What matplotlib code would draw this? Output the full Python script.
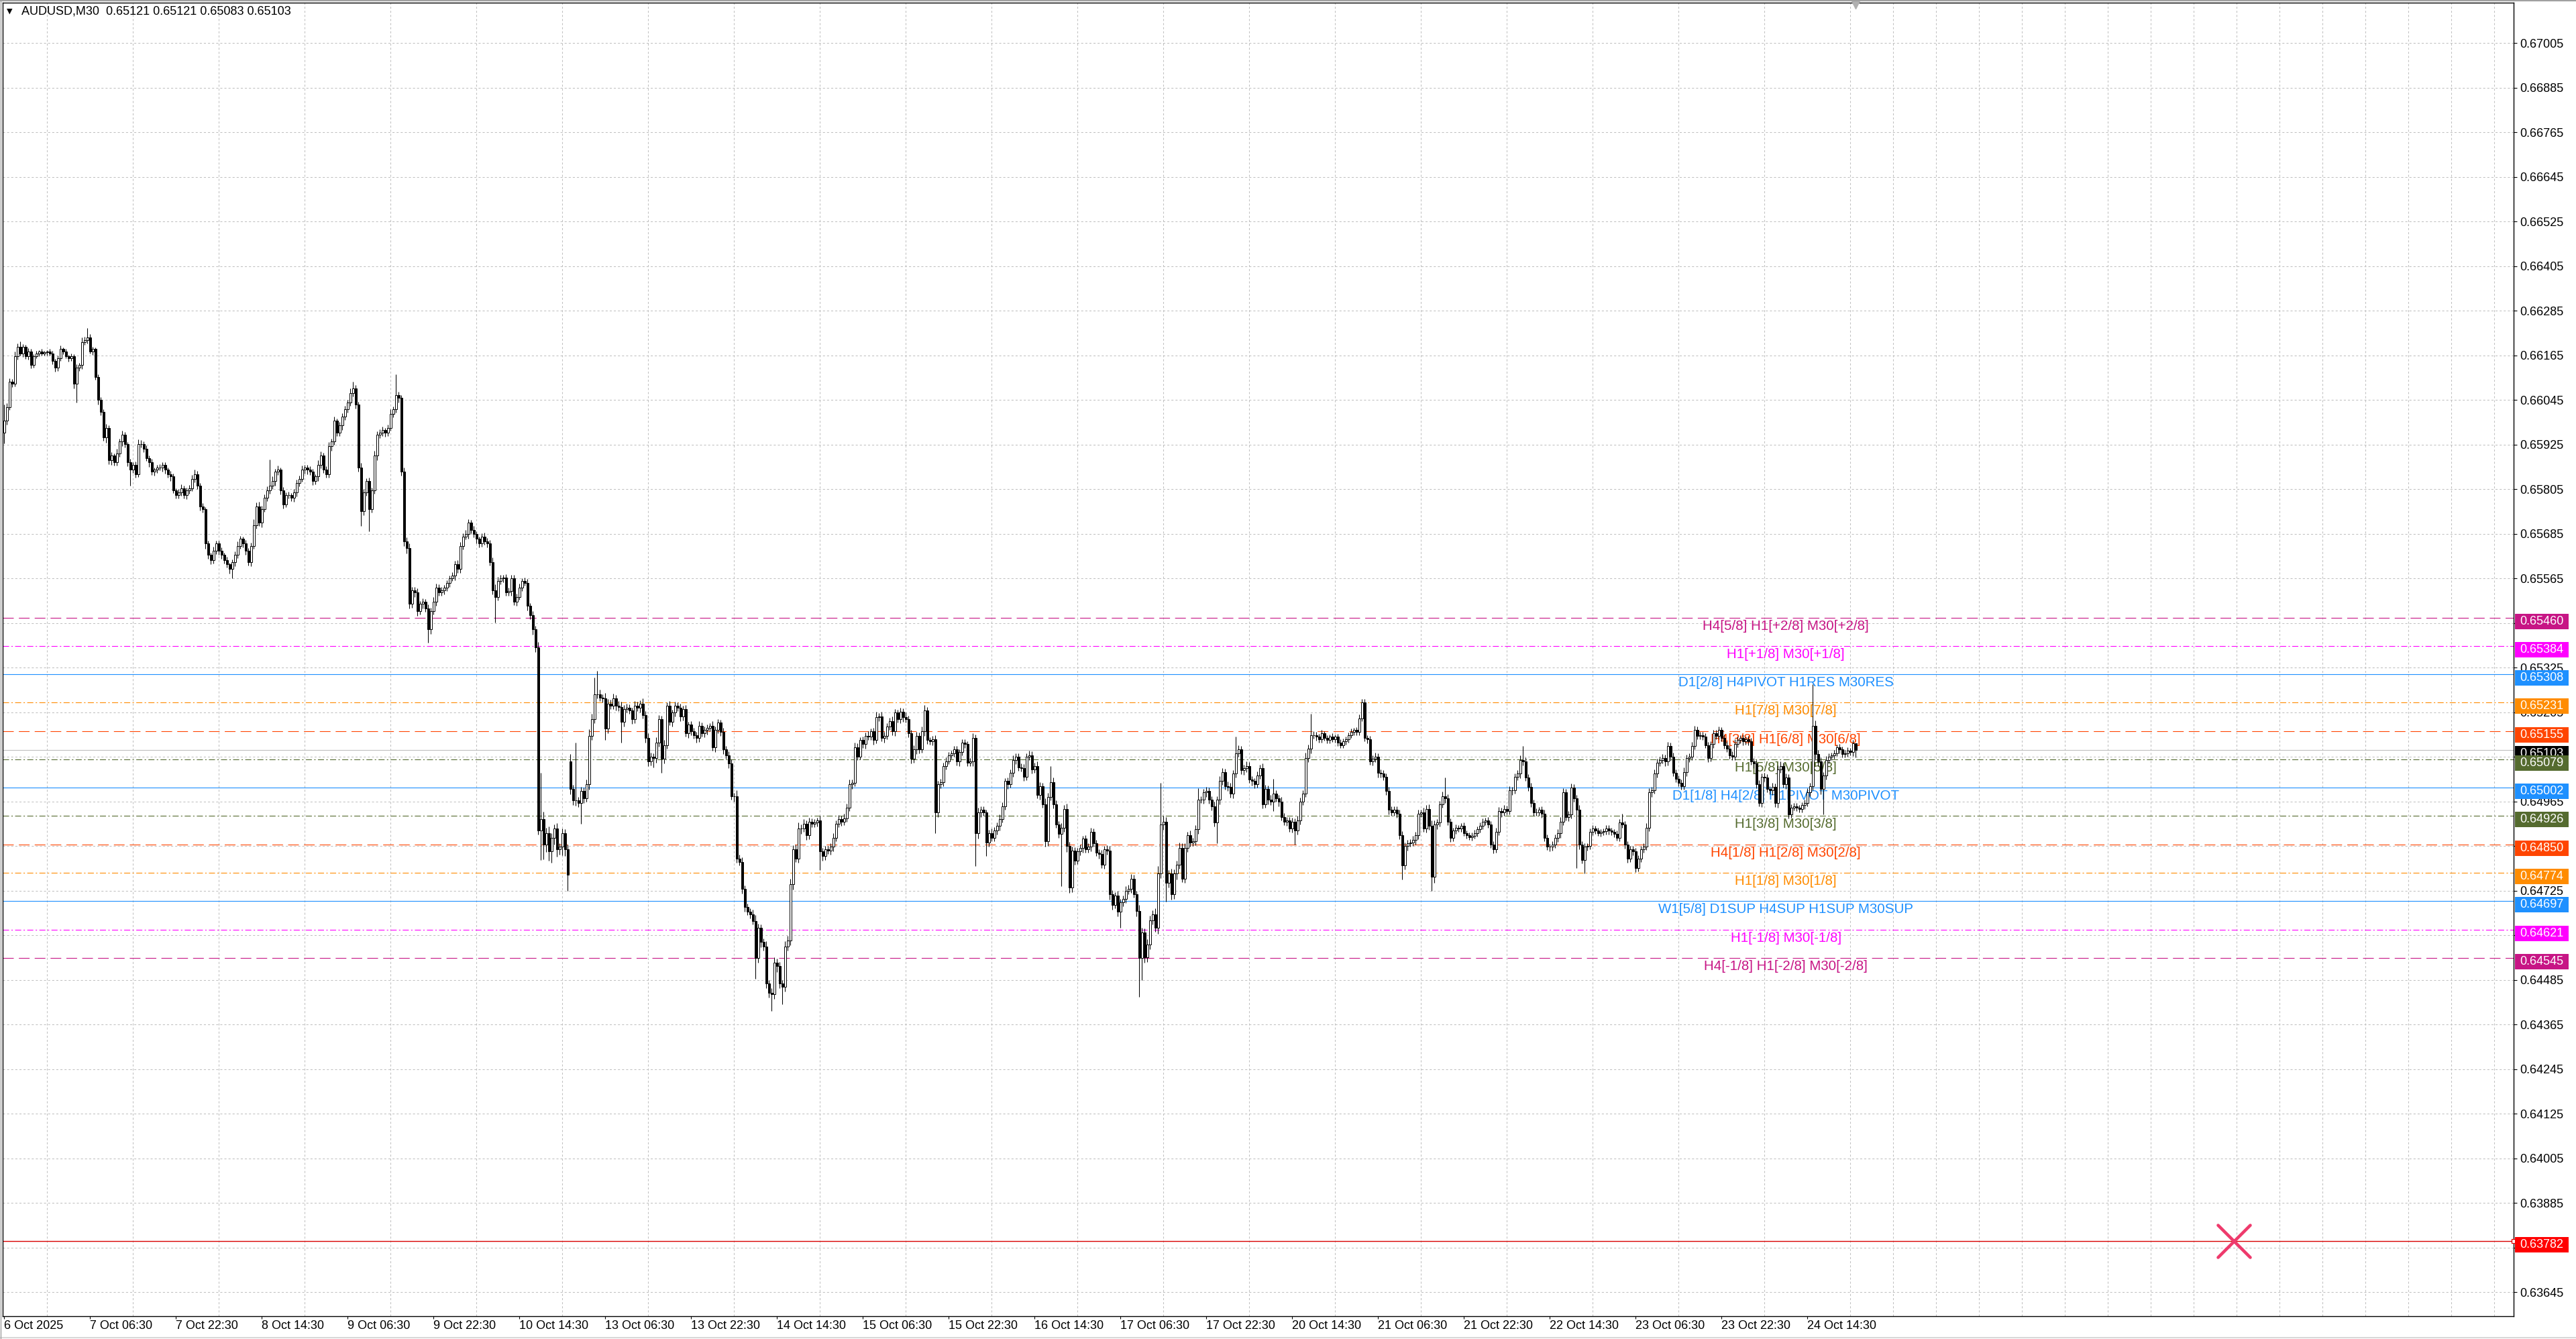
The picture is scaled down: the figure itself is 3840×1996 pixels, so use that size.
import matplotlib

matplotlib.use("Agg")

import matplotlib.pyplot as plt
import matplotlib.transforms as mtransforms
from matplotlib.lines import Line2D
from matplotlib.markers import MarkerStyle
from matplotlib.patches import Rectangle
from matplotlib.ticker import MultipleLocator
import numpy as np

plt.rcParams["font.family"] = ["Liberation Sans", "DejaVu Sans"]
plt.rcParams["lines.scale_dashes"] = False

W, H, DPI = 3840, 1996, 100

# ---- data -------------------------------------------------------------
SYMBOL = "AUDUSD,M30"
LAST_OHLC = ["0.65121", "0.65121", "0.65083", "0.65103"]

# M30 closes in points (1e-5)
CLOSE_PTS = [
    65989, 66026, 66095, 66089, 66163, 66188, 66170, 66188, 66163, 66176,
    66139, 66163, 66170, 66176, 66170, 66173, 66176, 66170, 66151, 66132,
    66157, 66182, 66176, 66163, 66157, 66163, 66089, 66132, 66139, 66201,
    66207, 66213, 66176, 66182, 66107, 66045, 66014, 65945, 65970, 65883,
    65896, 65877, 65902, 65933, 65952, 65927, 65877, 65858, 65871, 65846,
    65927, 65927, 65914, 65889, 65877, 65852, 65858, 65864, 65864, 65871,
    65858, 65846, 65840, 65802, 65790, 65796, 65808, 65790, 65802, 65808,
    65833, 65846, 65815, 65759, 65752, 65659, 65628, 65615, 65640, 65659,
    65640, 65628, 65615, 65603, 65590, 65609, 65628, 65653, 65672, 65659,
    65640, 65609, 65653, 65709, 65759, 65715, 65752, 65783, 65802, 65815,
    65827, 65852, 65858, 65802, 65765, 65790, 65790, 65783, 65796, 65821,
    65833, 65858, 65864, 65858, 65852, 65827, 65840, 65871, 65896, 65858,
    65846, 65921, 65933, 65989, 65958, 65977, 66001, 66020, 66039, 66064,
    66076, 66033, 65864, 65746, 65796, 65827, 65752, 65802, 65896, 65952,
    65958, 65964, 65958, 65970, 66008, 66020, 66058, 66051, 65852, 65665,
    65647, 65497, 65534, 65528, 65478, 65497, 65503, 65485, 65428, 65478,
    65503, 65541, 65528, 65534, 65541, 65553, 65566, 65572, 65603, 65590,
    65653, 65678, 65684, 65715, 65696, 65684, 65672, 65659, 65678, 65665,
    65659, 65609, 65534, 65516, 65559, 65566, 65568, 65528, 65531, 65566,
    65503, 65516, 65541, 65559, 65553, 65491, 65466, 65428, 65379, 64887,
    64918, 64849, 64880, 64831, 64868, 64893, 64837, 64843, 64880, 64837,
    64768, 64999, 64968, 64968, 64961, 64993, 64974, 65011, 65142, 65186,
    65254, 65254, 65244, 65242, 65161, 65229, 65223, 65242, 65223, 65219,
    65179, 65214, 65217, 65210, 65186, 65223, 65217, 65229, 65198, 65136,
    65073, 65086, 65082, 65123, 65186, 65080, 65117, 65223, 65179, 65204,
    65223, 65217, 65194, 65214, 65148, 65173, 65154, 65144, 65136, 65169,
    65148, 65157, 65164, 65169, 65111, 65157, 65177, 65152, 65105, 65090,
    65067, 64980, 64980, 64812, 64803, 64731, 64681, 64669, 64662, 64644,
    64544, 64625, 64588, 64575, 64475, 64451, 64447, 64532, 64522, 64475,
    64467, 64575, 64591, 64743, 64837, 64812, 64893, 64893, 64905, 64874,
    64911, 64905, 64908, 64915, 64831, 64818, 64837, 64833, 64843, 64868,
    64905, 64918, 64911, 64920, 64949, 65011, 65015, 65111, 65086, 65130,
    65120, 65142, 65140, 65154, 65130, 65192, 65194, 65136, 65142, 65167,
    65182, 65154, 65204, 65186, 65207, 65192, 65186, 65148, 65080, 65105,
    65142, 65105, 65154, 65210, 65130, 65127, 65132, 64936, 65011, 65017,
    65061, 65073, 65090, 65095, 65105, 65073, 65098, 65123, 65120, 65070,
    65073, 65136, 64880, 64936, 64943, 64936, 64855, 64880, 64868, 64887,
    64899, 64918, 64953, 65020, 65011, 65042, 65077, 65086, 65057, 65055,
    65032, 65086, 65090, 65052, 65061, 64982, 65007, 64958, 64858, 64978,
    65017, 64958, 64903, 64878, 64895, 64945, 64845, 64733, 64833, 64806,
    64831, 64840, 64865, 64837, 64843, 64883, 64853, 64828, 64824, 64796,
    64837, 64833, 64716, 64687, 64712, 64669, 64694, 64704, 64725, 64731,
    64758, 64716, 64671, 64544, 64613, 64546, 64581, 64646, 64662, 64625,
    64771, 64903, 64911, 64746, 64771, 64716, 64771, 64796, 64840, 64758,
    64840, 64874, 64855, 64858, 64890, 64970, 64970, 64990, 64993, 64970,
    64953, 64908, 64970, 65020, 65045, 65007, 65005, 64986, 65040, 65095,
    65105, 65049, 65055, 65061, 65024, 65020, 65011, 65036, 65055, 64958,
    64999, 64970, 64965, 64986, 64974, 64965, 64924, 64911, 64915, 64893,
    64911, 64887, 64915, 64965, 64986, 65082, 65107, 65144, 65144, 65139,
    65132, 65148, 65136, 65130, 65139, 65132, 65139, 65123, 65117, 65127,
    65132, 65144, 65152, 65157, 65152, 65189, 65232, 65136, 65132, 65073,
    65080, 65086, 65042, 65040, 65032, 64993, 64943, 64936, 64943, 64933,
    64874, 64793, 64845, 64853, 64855, 64862, 64874, 64933, 64936, 64893,
    64945, 64899, 64762, 64903, 64908, 64958, 64980, 64974, 64911, 64868,
    64887, 64895, 64893, 64899, 64880, 64874, 64870, 64873, 64880, 64890,
    64899, 64911, 64915, 64903, 64849, 64837, 64883, 64940, 64936, 64945,
    64940, 64995, 64995, 65032, 65040, 65077, 65073, 65030, 65005, 64961,
    64936, 64936, 64943, 64933, 64868, 64843, 64843, 64849, 64868, 64880,
    64911, 64990, 64924, 64930, 65002, 64974, 64943, 64849, 64808, 64843,
    64845, 64883, 64893, 64887, 64880, 64883, 64885, 64893, 64887, 64883,
    64878, 64868, 64908, 64903, 64849, 64812, 64837, 64831, 64787, 64812,
    64837, 64843, 64895, 64990, 64995, 65040, 65070, 65077, 65082, 65073,
    65115, 65086, 65042, 65027, 65015, 65007, 65045, 65082, 65086, 65115,
    65157, 65142, 65144, 65139, 65117, 65082, 65120, 65148, 65142, 65157,
    65136, 65117, 65107, 65090, 65086, 65120, 65130, 65136, 65127, 65132,
    65127, 65073, 65067, 65011, 64961, 65032, 65030, 64999, 64995, 65005,
    64961, 65052, 65061, 65011, 65030, 64930, 64949, 64953, 64949, 64945,
    64955, 64961, 64990, 65007, 65169, 65092, 65073, 64999, 65036, 65077,
    65086, 65090, 65095, 65111, 65105, 65092, 65095, 65102, 65098, 65121,
    65103,
]

# upper / lower shadow lengths in points
UP_WICK = [
    44, 10, 8, 6, 12, 9, 15, 7, 5, 8,
    6, 5, 7, 4, 6, 5, 4, 6, 8, 5,
    7, 9, 5, 6, 4, 8, 5, 10, 6, 12,
    8, 25, 9, 6, 5, 7, 8, 6, 10, 7,
    9, 6, 12, 8, 10, 7, 5, 9, 6, 8,
    12, 10, 6, 8, 7, 9, 5, 6, 8, 7,
    6, 5, 8, 7, 5, 9, 10, 6, 7, 8,
    10, 12, 8, 6, 9, 5, 7, 6, 10, 8,
    7, 9, 6, 8, 5, 7, 10, 12, 8, 6,
    9, 7, 8, 15, 10, 12, 9, 8, 11, 70,
    12, 8, 10, 6, 9, 7, 8, 5, 10, 9,
    8, 10, 7, 6, 9, 8, 6, 12, 10, 7,
    9, 11, 8, 12, 6, 9, 8, 10, 7, 12,
    19, 10, 8, 12, 9, 7, 10, 8, 12, 9,
    8, 10, 6, 9, 12, 8, 56, 10, 8, 12,
    10, 12, 9, 8, 10, 7, 9, 6, 10, 8,
    12, 10, 8, 9, 6, 8, 7, 10, 9, 12,
    10, 8, 12, 9, 7, 10, 8, 6, 9, 10,
    8, 9, 12, 15, 10, 8, 7, 9, 10, 8,
    9, 8, 10, 7, 9, 10, 8, 12, 10, 15,
    125, 20, 15, 18, 12, 10, 14, 9, 12, 10,
    12, 20, 10, 155, 9, 12, 10, 14, 18, 15,
    44, 62, 12, 10, 15, 12, 10, 14, 9, 12,
    15, 10, 12, 9, 8, 12, 10, 9, 14, 10,
    12, 10, 9, 15, 12, 10, 14, 9, 12, 8,
    10, 9, 12, 8, 10, 7, 9, 10, 8, 12,
    9, 10, 8, 7, 12, 9, 10, 8, 12, 10,
    10, 12, 9, 15, 10, 12, 9, 10, 8, 12,
    15, 12, 10, 9, 14, 10, 12, 15, 10, 12,
    10, 15, 12, 14, 10, 12, 15, 10, 12, 9,
    10, 8, 9, 7, 12, 10, 8, 9, 10, 12,
    9, 10, 8, 12, 10, 14, 9, 12, 10, 8,
    10, 9, 12, 8, 10, 14, 9, 12, 10, 8,
    9, 12, 10, 8, 10, 9, 12, 10, 9, 12,
    10, 9, 12, 15, 10, 8, 9, 12, 10, 9,
    8, 10, 9, 7, 10, 9, 8, 10, 9, 8,
    9, 12, 10, 12, 9, 10, 8, 9, 12, 10,
    9, 12, 10, 8, 9, 10, 12, 9, 8, 10,
    10, 9, 12, 10, 9, 12, 10, 9, 15, 10,
    44, 12, 10, 9, 12, 10, 15, 12, 10, 9,
    10, 9, 8, 10, 9, 12, 10, 9, 8, 10,
    9, 10, 12, 10, 9, 12, 10, 9, 12, 10,
    12, 10, 9, 15, 12, 10, 14, 12, 10, 15,
    20, 112, 15, 12, 10, 14, 12, 10, 15, 12,
    12, 10, 14, 9, 12, 31, 10, 9, 12, 10,
    9, 12, 10, 14, 10, 9, 12, 10, 9, 44,
    12, 10, 9, 12, 10, 9, 8, 10, 9, 12,
    10, 9, 12, 40, 10, 9, 12, 10, 8, 9,
    10, 9, 12, 10, 9, 14, 12, 58, 10, 9,
    8, 9, 7, 8, 6, 9, 7, 8, 9, 7,
    8, 6, 9, 7, 8, 10, 8, 9, 8, 10,
    9, 10, 8, 9, 10, 9, 12, 10, 9, 10,
    10, 12, 10, 9, 8, 10, 9, 10, 8, 12,
    10, 12, 15, 12, 10, 9, 12, 50, 10, 9,
    8, 9, 7, 8, 9, 8, 7, 8, 9, 8,
    9, 8, 7, 9, 10, 9, 12, 10, 9, 10,
    9, 12, 10, 9, 10, 12, 38, 10, 9, 10,
    9, 10, 8, 9, 10, 9, 8, 10, 9, 10,
    12, 10, 9, 10, 12, 10, 9, 12, 10, 9,
    8, 9, 8, 7, 8, 7, 8, 9, 8, 7,
    8, 9, 10, 25, 9, 10, 8, 9, 10, 9,
    8, 9, 12, 10, 9, 12, 10, 9, 10, 9,
    10, 9, 10, 9, 8, 10, 12, 9, 8, 10,
    12, 9, 8, 9, 10, 9, 8, 9, 10, 9,
    8, 9, 10, 9, 10, 12, 9, 8, 9, 8,
    9, 10, 9, 10, 12, 9, 10, 9, 8, 10,
    9, 10, 12, 9, 10, 9, 8, 9, 8, 7,
    8, 9, 10, 9, 112, 15, 12, 10, 9, 10,
    8, 7, 9, 8, 9, 7, 8, 9, 8, 10,
    0,
]
DN_WICK = [
    30, 10, 8, 9, 7, 10, 6, 9, 8, 10,
    8, 6, 5, 7, 6, 5, 8, 6, 9, 10,
    8, 6, 7, 5, 9, 6, 12, 50, 8, 10,
    8, 9, 6, 10, 8, 12, 10, 9, 14, 10,
    12, 9, 8, 10, 12, 9, 10, 44, 9, 10,
    8, 10, 9, 7, 12, 8, 10, 9, 8, 12,
    10, 9, 12, 8, 10, 9, 8, 10, 12, 9,
    8, 9, 10, 12, 9, 14, 10, 12, 9, 10,
    12, 10, 9, 8, 12, 25, 10, 9, 8, 10,
    12, 9, 10, 8, 10, 9, 12, 8, 10, 9,
    10, 12, 9, 10, 12, 8, 10, 9, 12, 10,
    9, 8, 10, 12, 9, 10, 8, 12, 10, 9,
    10, 9, 12, 8, 10, 9, 12, 10, 8, 10,
    9, 10, 12, 40, 10, 9, 60, 10, 9, 12,
    10, 9, 12, 10, 8, 10, 9, 12, 10, 12,
    15, 12, 10, 12, 14, 10, 12, 9, 35, 12,
    10, 12, 9, 10, 12, 9, 10, 8, 12, 10,
    10, 9, 8, 12, 10, 9, 12, 10, 8, 9,
    10, 9, 12, 69, 10, 9, 12, 10, 9, 12,
    10, 12, 9, 10, 8, 12, 10, 14, 12, 10,
    80, 40, 20, 25, 30, 18, 20, 15, 22, 18,
    44, 15, 12, 14, 10, 56, 12, 10, 14, 12,
    10, 12, 9, 10, 30, 12, 10, 9, 12, 10,
    55, 12, 10, 9, 12, 10, 9, 12, 10, 12,
    12, 10, 25, 12, 10, 38, 12, 10, 9, 12,
    10, 9, 12, 10, 8, 12, 10, 9, 12, 10,
    9, 10, 12, 9, 10, 12, 9, 10, 12, 10,
    12, 10, 15, 12, 10, 14, 12, 10, 12, 10,
    56, 12, 15, 10, 12, 14, 46, 12, 15, 12,
    48, 12, 10, 12, 15, 10, 12, 14, 10, 12,
    10, 9, 8, 10, 50, 12, 10, 9, 10, 12,
    10, 9, 12, 10, 9, 10, 12, 9, 10, 8,
    10, 12, 9, 10, 12, 9, 10, 8, 12, 10,
    9, 10, 12, 9, 10, 12, 9, 10, 12, 10,
    12, 10, 9, 12, 10, 9, 10, 56, 12, 10,
    10, 9, 8, 10, 9, 10, 12, 9, 10, 9,
    10, 12, 88, 15, 12, 10, 37, 12, 10, 9,
    10, 12, 9, 10, 12, 9, 10, 12, 10, 9,
    12, 10, 9, 12, 10, 9, 12, 10, 14, 12,
    10, 12, 9, 10, 140, 12, 15, 14, 12, 10,
    9, 10, 12, 9, 10, 12, 10, 9, 12, 10,
    12, 10, 14, 12, 10, 12, 44, 10, 12, 10,
    12, 10, 14, 105, 60, 15, 12, 14, 12, 10,
    15, 12, 14, 50, 12, 14, 12, 15, 12, 10,
    12, 10, 12, 9, 10, 12, 9, 10, 12, 10,
    12, 10, 56, 12, 10, 9, 12, 10, 12, 10,
    9, 10, 12, 10, 9, 12, 10, 9, 10, 12,
    10, 12, 9, 25, 10, 12, 9, 10, 12, 10,
    12, 38, 10, 12, 10, 9, 10, 12, 9, 10,
    8, 9, 7, 8, 9, 7, 8, 9, 8, 7,
    8, 9, 7, 8, 9, 8, 7, 8, 10, 9,
    10, 9, 12, 10, 9, 10, 12, 9, 10, 12,
    10, 38, 10, 12, 9, 10, 12, 10, 9, 10,
    12, 10, 38, 15, 12, 10, 9, 12, 10, 12,
    9, 8, 9, 10, 8, 9, 8, 9, 8, 9,
    8, 9, 10, 8, 9, 12, 10, 9, 12, 10,
    9, 10, 12, 9, 10, 12, 10, 9, 12, 10,
    10, 9, 10, 12, 10, 9, 12, 10, 9, 12,
    12, 10, 9, 12, 10, 9, 156, 12, 10, 37,
    10, 9, 8, 9, 8, 9, 8, 9, 10, 8,
    9, 8, 10, 9, 10, 12, 9, 10, 12, 9,
    10, 9, 8, 10, 12, 9, 10, 9, 10, 12,
    10, 12, 9, 10, 9, 10, 9, 12, 10, 9,
    10, 9, 10, 9, 8, 10, 9, 10, 9, 10,
    9, 10, 9, 10, 9, 10, 9, 8, 10, 9,
    10, 9, 12, 10, 9, 10, 12, 9, 10, 12,
    10, 12, 10, 9, 12, 10, 9, 8, 9, 10,
    9, 10, 9, 10, 12, 15, 12, 14, 69, 12,
    9, 10, 9, 8, 10, 9, 8, 9, 8, 10,
    20,
]
# bars whose open is not the previous close (first bar, weekend gap)
OPEN_GAP_PTS = {0: 65958, 211: 65073}

TIME_LABELS = [
    "6 Oct 2025", "7 Oct 06:30", "7 Oct 22:30", "8 Oct 14:30", "9 Oct 06:30",
    "9 Oct 22:30", "10 Oct 14:30", "13 Oct 06:30", "13 Oct 22:30", "14 Oct 14:30",
    "15 Oct 06:30", "15 Oct 22:30", "16 Oct 14:30", "17 Oct 06:30", "17 Oct 22:30",
    "20 Oct 14:30", "21 Oct 06:30", "21 Oct 22:30", "22 Oct 14:30", "23 Oct 06:30",
    "23 Oct 22:30", "24 Oct 14:30",
]
BARS_PER_LABEL = 32

PRICE_TICKS = [
    0.67005, 0.66885, 0.66765, 0.66645, 0.66525, 0.66405, 0.66285, 0.66165,
    0.66045, 0.65925, 0.65805, 0.65685, 0.65565, 0.65445, 0.65325, 0.65205,
    0.65085, 0.64965, 0.64845, 0.64725, 0.64605, 0.64485, 0.64365, 0.64245,
    0.64125, 0.64005, 0.63885, 0.63765, 0.63645,
]

LEVEL_PRICES = [0.65460, 0.65384, 0.65308, 0.65231, 0.65155, 0.65079, 0.65002,
                0.64926, 0.64850, 0.64774, 0.64697, 0.64621, 0.64545]
LEVEL_NAMES = [
    "H4[5/8] H1[+2/8] M30[+2/8]",
    "H1[+1/8] M30[+1/8]",
    "D1[2/8] H4PIVOT H1RES M30RES",
    "H1[7/8] M30[7/8]",
    "H4[3/8] H1[6/8] M30[6/8]",
    "H1[5/8] M30[5/8]",
    "D1[1/8] H4[2/8] H1PIVOT M30PIVOT",
    "H1[3/8] M30[3/8]",
    "H4[1/8] H1[2/8] M30[2/8]",
    "H1[1/8] M30[1/8]",
    "W1[5/8] D1SUP H4SUP H1SUP M30SUP",
    "H1[-1/8] M30[-1/8]",
    "H4[-1/8] H1[-2/8] M30[-2/8]",
]
BID_PRICE = 0.65103
ALERT_PRICE = 0.63782

# ---- styling -----------------------------------------------------------
VIOLET, MAGENTA, BLUE = "#C71585", "#FF00FF", "#1E90FF"
DORANGE, ORED, OLIVE = "#FF8C00", "#FF4500", "#556B2F"
DASH = (0, (11.5, 5.5))
DASHDOT = (0, (6.5, 2.5, 1.5, 2.5))
LEVEL_STYLE = [
    (VIOLET, DASH), (MAGENTA, DASHDOT), (BLUE, "-"), (DORANGE, DASHDOT),
    (ORED, DASH), (OLIVE, DASHDOT), (BLUE, "-"), (OLIVE, DASHDOT),
    (ORED, DASH), (DORANGE, DASHDOT), (BLUE, "-"), (MAGENTA, DASHDOT),
    (VIOLET, DASH),
]
GRID_KW = dict(color="#C0C0C0", lw=0.75, linestyle=(0, (2.2, 2.2)))
TXT = 13
LABEL_BAR = 664      # where the level captions are centred
ALERT_BAR = 831      # position of the alert cross

# screenshot pixel geometry
PX_LEFT, PX_RIGHT, PX_TOP, PX_BOTTOM = 4, 3747, 3.5, 1962
X0_PX, BAR_PX = 6.3, 4.0
Y_TOP, Y_BOTTOM = 0.671147, 0.635808

# ---- build candles ------------------------------------------------------
close = np.array(CLOSE_PTS, dtype=float) / 1e5
opn = np.r_[close[0], close[:-1]]
for i, v in OPEN_GAP_PTS.items():
    opn[i] = v / 1e5
high = np.maximum(opn, close) + np.array(UP_WICK) / 1e5
low = np.minimum(opn, close) - np.array(DN_WICK) / 1e5
xb = np.arange(len(close))
up = close >= opn

fig = plt.figure(figsize=(W / DPI, H / DPI), dpi=DPI)
fig.patch.set_facecolor("white")
ax = fig.add_axes([PX_LEFT / W, 1 - PX_BOTTOM / H,
                   (PX_RIGHT - PX_LEFT) / W, (PX_BOTTOM - PX_TOP) / H])
ax.set_facecolor("white")
ax.set_axisbelow(True)

# level lines + captions
for price, name, (col, ls) in zip(LEVEL_PRICES, LEVEL_NAMES, LEVEL_STYLE):
    ax.axhline(price, color=col, lw=0.8, linestyle=ls, zorder=2)
    ax.annotate(name, xy=(LABEL_BAR, price), xytext=(0, -9), textcoords="offset points",
                ha="center", va="center", fontsize=14.8, color=col, zorder=3)

ax.axhline(BID_PRICE, color="#C0C0C0", lw=0.8, zorder=2)
ax.axhline(ALERT_PRICE, color="#D80000", lw=1.0, zorder=2)

# candles
ax.vlines(xb, low, high, color="black", lw=0.75, zorder=4)
ax.bar(xb, np.abs(close - opn), bottom=np.minimum(opn, close), width=0.66,
       color=np.where(up, "white", "black"), edgecolor="black", linewidth=0.7, zorder=5)

# alert cross
ax.plot([ALERT_BAR], [ALERT_PRICE], linestyle="none",
        marker=MarkerStyle("x", capstyle="round"), ms=34, mew=3.3,
        color="#EE3A6C", zorder=6)
ax.plot([1.0], [ALERT_PRICE], transform=mtransforms.blended_transform_factory(ax.transAxes, ax.transData),
        marker="s", ms=4, mfc="white", mec="#E00000", mew=0.9, clip_on=False, zorder=7)

# chart-shift marker at top
ax.plot([xb[-1]], [1 - 3.5 / (PX_BOTTOM - PX_TOP)],
        transform=mtransforms.blended_transform_factory(ax.transData, ax.transAxes),
        marker="v", ms=8, color="#B0B0B0", clip_on=False, zorder=7)

# axes / grid
ax.set_xlim((PX_LEFT - X0_PX) / BAR_PX, (PX_RIGHT - X0_PX) / BAR_PX)
ax.set_ylim(Y_BOTTOM, Y_TOP)

label_bars = [BARS_PER_LABEL * k for k in range(len(TIME_LABELS))]
ax.set_xticks(label_bars)
ax.set_xticklabels(TIME_LABELS, ha="left")
ax.xaxis.set_minor_locator(MultipleLocator(16))
ax.tick_params(axis="x", which="major", direction="out", length=3, width=0.8,
               pad=1.5, labelsize=TXT, colors="black")
ax.tick_params(axis="x", which="minor", length=0)
ax.grid(which="minor", axis="x", **GRID_KW)

ax.yaxis.tick_right()
ax.set_yticks(PRICE_TICKS)
ax.set_yticklabels([f"{p:.5f}" for p in PRICE_TICKS])
ax.tick_params(axis="y", direction="out", length=3.6, width=0.8, pad=2.9,
               labelsize=TXT, colors="black")
ax.grid(which="major", axis="y", **GRID_KW)

for sp in ax.spines.values():
    sp.set_color("black")
    sp.set_linewidth(1.0)

# price boxes on the right scale (current price first, levels drawn over it)
ppu = (PX_BOTTOM - PX_TOP) / (Y_TOP - Y_BOTTOM)
half_h = 11.5 / ppu
shift = 5.5 / ppu
trans_box = mtransforms.blended_transform_factory(fig.transFigure, ax.transData)
boxes = [(BID_PRICE, "black")]
boxes += [(p, c) for p, (c, _) in zip(LEVEL_PRICES, LEVEL_STYLE)]
boxes += [(ALERT_PRICE, "#FF0000")]
for k, (price, col) in enumerate(boxes):
    yc = price - shift
    ax.add_artist(Rectangle((3749 / W, yc - half_h), 80 / W, 2 * half_h,
                            transform=trans_box, facecolor=col, edgecolor="none",
                            clip_on=False, zorder=8 + 2 * k))
    ax.text(3756 / W, yc, f"{price:.5f}", transform=trans_box, color="white",
            fontsize=TXT, ha="left", va="center", clip_on=False, zorder=9 + 2 * k)

# header
fig.text(10 / W, 1 - 17 / H, "▼", fontsize=8, ha="left", va="center",
         family=["DejaVu Sans"])
fig.text(32 / W, 1 - 17 / H, f"{SYMBOL}  " + " ".join(LAST_OHLC),
         fontsize=TXT, ha="left", va="center", color="black")

# window frame
fig.add_artist(Line2D([0, 1], [1 - 1 / H, 1 - 1 / H], transform=fig.transFigure,
                      color="#A0A0A0", lw=1.5))
fig.add_artist(Line2D([0, 1], [2 / H, 2 / H], transform=fig.transFigure,
                      color="#D8D8D8", lw=1.5))
fig.add_artist(Line2D([1 / W, 1 / W], [0, 1], transform=fig.transFigure,
                      color="#A0A0A0", lw=1.0))

fig.savefig("out.png", dpi=DPI, facecolor="white")
plt.close(fig)
